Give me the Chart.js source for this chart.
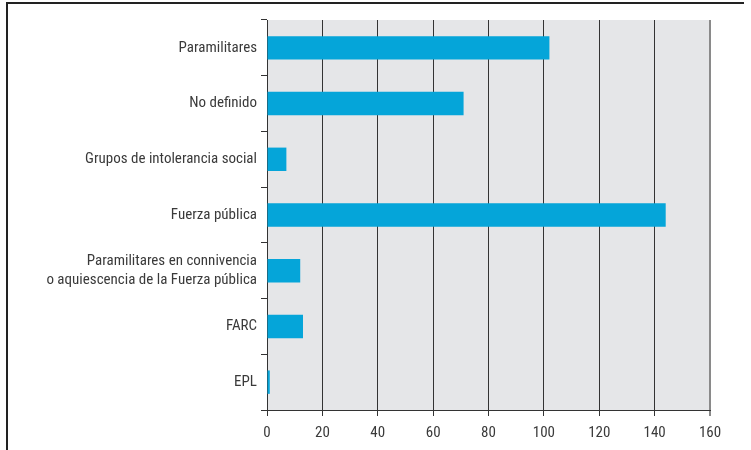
<!DOCTYPE html>
<html>
<head>
<meta charset="utf-8">
<script src="https://cdn.jsdelivr.net/npm/chart.js@4"></script>
<style>
  html, body { margin: 0; padding: 0; background: #fff; }
  #wrap { position: relative; width: 751px; height: 450px; }
  #frame { position: absolute; left: 6px; top: 2px; width: 736px; height: 460px;
           border-top: 2px solid #222; border-left: 2px solid #222; }
  canvas { position: absolute; left: 0; top: 0; }
</style>
</head>
<body>
<div id="wrap">
  <div id="frame"></div>
  <canvas id="chart" width="751" height="450"></canvas>
</div>
<script>
// categorias y valores
let labels = [
    'Paramilitares',
    'No definido',
    'Grupos de intolerancia social',
    'Fuerza pública',
    ['Paramilitares en connivencia', 'o aquiescencia de la Fuerza pública'],
    'FARC',
    'EPL'
];
let values = [102, 71, 7, 144, 12, 13, 1];
let xTicks = [0, 20, 40, 60, 80, 100, 120, 140, 160];

let fontFamily = "'Roboto Condensed', 'Liberation Sans Narrow', Roboto, sans-serif";

// fondo gris del area de grafico
let plotBg = {
    id: 'plotBg',
    beforeDraw(chart){
        let a = chart.chartArea;
        let ctx = chart.ctx;
        ctx.save();
        ctx.fillStyle = '#e5e6e8';
        ctx.fillRect(a.left, a.top, a.right - a.left, a.bottom - a.top);
        ctx.restore();
    }
};

new Chart(document.getElementById('chart'), {
    type: 'bar',
    data: {
        labels: labels,
        datasets: [{
            data: values,
            backgroundColor: '#05a5d9',
            borderWidth: 0,
            barPercentage: 0.42,
            categoryPercentage: 1
        }]
    },
    options: {
        indexAxis: 'y',
        responsive: false,
        animation: false,
        layout: { padding: { top: 20, right: 41, left: 0, bottom: 0 } },
        plugins: { legend: { display: false }, tooltip: { enabled: false } },
        scales: {
            x: {
                min: 0,
                max: 160,
                afterBuildTicks: function(scale){
                    scale.ticks = xTicks.map(v => ({ value: v }));
                },
                afterFit: function(scale){ scale.height = 40; },
                grid: {
                    color: ctx => ctx.tick && ctx.tick.value === 160 ? '#8a8a8a' : '#333',
                    lineWidth: ctx => ctx.tick && ctx.tick.value === 160 ? 2 : 1,
                    tickLength: 6
                },
                border: { color: '#333', width: 1 },
                ticks: {
                    color: '#3a3a3a',
                    font: { family: fontFamily, size: 15 },
                    padding: 8
                }
            },
            y: {
                afterFit: function(scale){ scale.width = 267; },
                grid: {
                    drawOnChartArea: false,
                    color: '#333',
                    tickLength: 6
                },
                border: { color: '#333', width: 1 },
                ticks: {
                    color: '#3a3a3a',
                    font: { family: fontFamily, size: 15, lineHeight: 1.25 },
                    padding: 4
                }
            }
        }
    },
    plugins: [plotBg]
});
</script>
</body>
</html>
